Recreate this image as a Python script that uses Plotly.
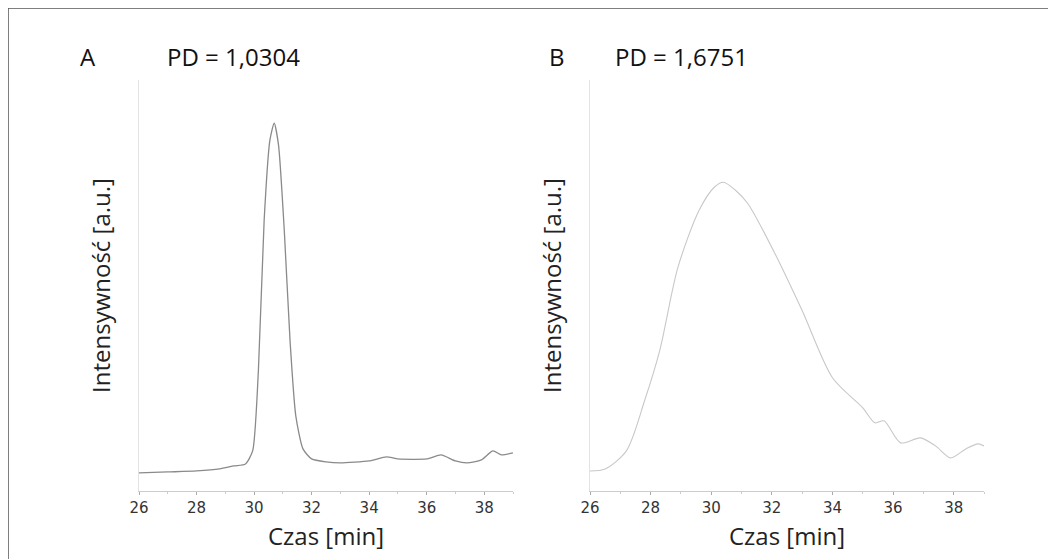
import plotly.graph_objects as go

ticks = [26, 28, 30, 32, 34, 36, 38]
xa = [26, 27, 28, 28.8, 29.3, 29.7, 29.95, 30.15, 30.35, 30.55, 30.7, 30.85, 31.05, 31.25, 31.45, 31.7, 32.0, 32.5, 33.0, 34.0, 34.6, 35.0, 36.0, 36.5, 37.0, 37.4, 37.9, 38.3, 38.6, 39.0]
ya = [18, 19, 20, 22, 25, 27, 40, 120, 270, 350, 367, 345, 260, 150, 75, 42, 32, 29, 28, 30, 34, 32, 32, 36, 30, 28, 31, 40, 36, 38]
xb = [26, 26.5, 27.2, 27.8, 28.3, 28.9, 29.6, 30.1, 30.4, 30.8, 31.2, 32.05, 33.0, 34.0, 35.0, 35.4, 35.7, 36.25, 36.9, 37.4, 37.9, 38.4, 38.8, 39.0]
yb = [20, 22, 40, 90, 140, 223, 280, 303, 308, 300, 287, 240, 180, 113, 83, 68, 70, 48, 53, 45, 33, 42, 47, 45]

fig = go.Figure()
fig.add_trace(go.Scatter(x=xa, y=ya, mode="lines", line=dict(color="#8a8a8a", width=1.3, shape="spline", smoothing=0.6), xaxis="x", yaxis="y"))
fig.add_trace(go.Scatter(x=xb, y=yb, mode="lines", line=dict(color="#c8c8c8", width=1.1, shape="spline", smoothing=0.8), xaxis="x2", yaxis="y2"))

tf = dict(family="Open Sans", size=24, color="#222")
ax = dict(range=[26, 39], tickvals=ticks, showgrid=False, zeroline=False, showline=True, linecolor="#cccccc", automargin=False,
          ticks="outside", ticklen=3, tickcolor="#aaaaaa", minor=dict(dtick=1, ticks="outside", ticklen=2, tickcolor="#cccccc"),
          tickfont=dict(family="DejaVu Sans", size=15, color="#333"), title=dict(text="Czas [min]", font=tf, standoff=12))
ay = dict(range=[0, 410], showgrid=False, zeroline=False, showline=True, linecolor="#e2e2e2", showticklabels=False, ticks="", automargin=False,
          title=dict(text="Intensywność [a.u.]", font=tf, standoff=20))

def ann(t, x, y):
    return dict(text=t, x=x/1056, y=1-y/559, xref="paper", yref="paper", xanchor="center", yanchor="middle",
                showarrow=False, font=dict(family="Open Sans", size=24, color="#111"))

fig.update_layout(
    width=1056, height=559, margin=dict(l=0, r=0, t=0, b=0), plot_bgcolor="white", paper_bgcolor="white", showlegend=False,
    xaxis=dict(ax, domain=[131/1056, 505/1056], anchor="y"),
    yaxis=dict(ay, domain=[76/559, 487/559], anchor="x"),
    xaxis2=dict(ax, domain=[582/1056, 976/1056], anchor="y2"),
    yaxis2=dict(ay, domain=[76/559, 487/559], anchor="x2"),
    shapes=[dict(type="rect", xref="paper", yref="paper", x0=0.0, x1=1.005, y0=-0.1, y1=1.0, line=dict(color="#555", width=1.5))],
    annotations=[ann("A", 80, 48), ann("PD = 1,0304", 225, 48), ann("B", 549, 48), ann("PD = 1,6751", 673, 48)],
)
fig.write_html("out.html")
